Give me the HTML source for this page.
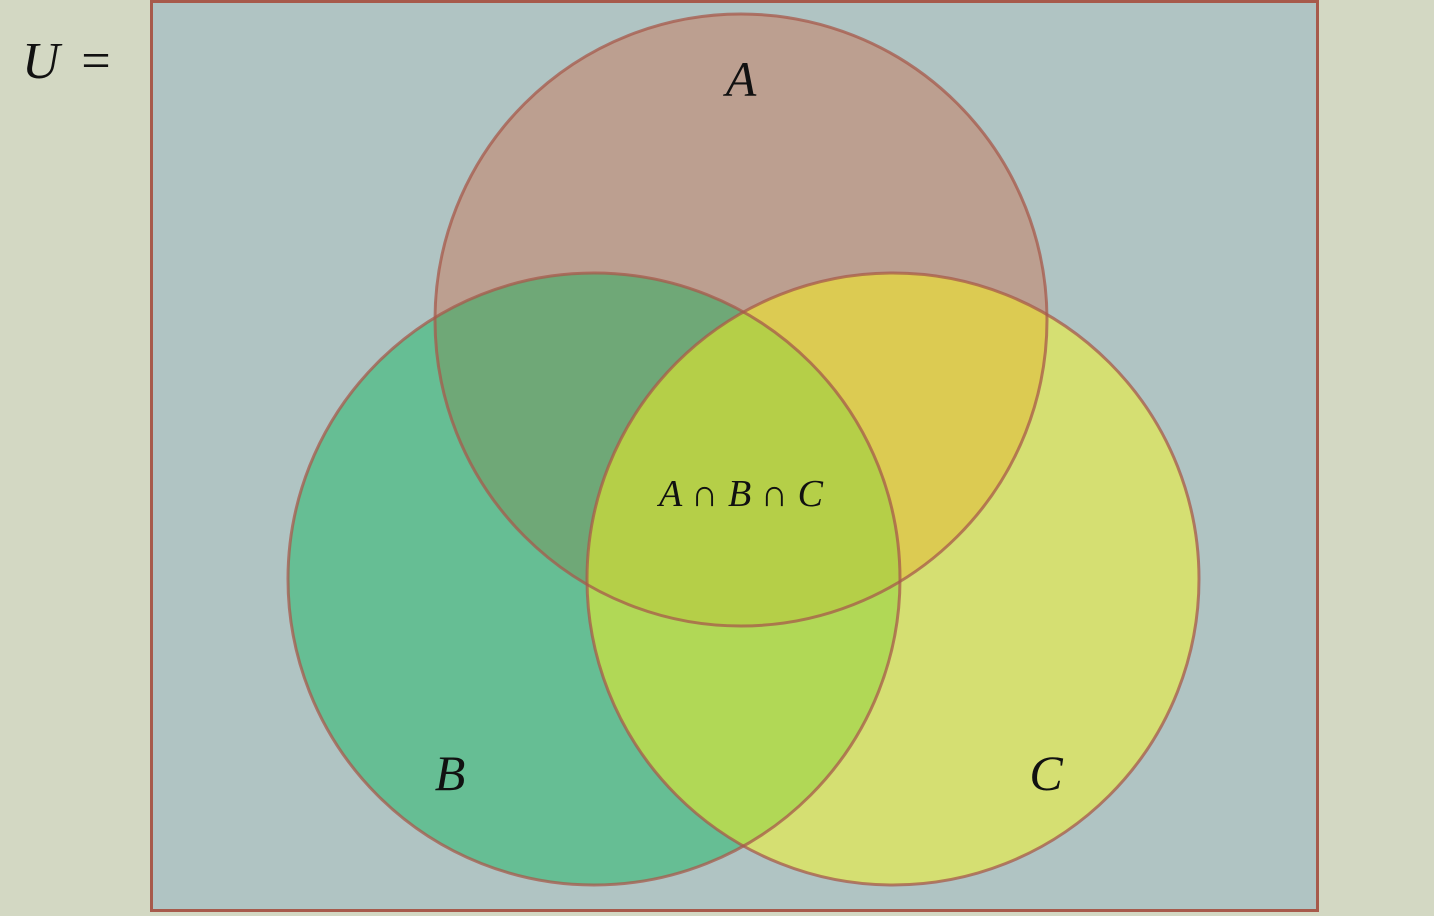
<!DOCTYPE html>
<html><head><meta charset="utf-8"><style>
html,body{margin:0;padding:0;background:#d3d8c3;width:1434px;height:916px;overflow:hidden}
text{font-family:"Liberation Serif","DejaVu Serif",serif;font-style:italic}
</style></head><body>
<svg width="1434" height="916" viewBox="0 0 1434 916">
<defs>
<clipPath id="cA"><circle cx="741" cy="320" r="306"/></clipPath>
<clipPath id="cB"><circle cx="594" cy="579" r="306"/></clipPath>
<clipPath id="cC"><circle cx="893" cy="579" r="306"/></clipPath>
</defs>
<rect x="0" y="0" width="1434" height="916" fill="#d3d8c3"/>
<rect x="151.5" y="1.5" width="1166" height="909" fill="#b0c4c3" stroke="#a75a4b" stroke-width="3"/>
<text x="22" y="78" font-size="52" fill="#111">U</text>
<text x="78" y="78" font-size="52" fill="#111" font-style="normal">=</text>
<circle cx="741" cy="320" r="306" fill="#bc9f90"/>
<circle cx="594" cy="579" r="306" fill="#66be94"/>
<circle cx="893" cy="579" r="306" fill="#d5df72"/>
<g clip-path="url(#cA)"><circle cx="594" cy="579" r="306" fill="#6fa877"/></g>
<g clip-path="url(#cA)"><circle cx="893" cy="579" r="306" fill="#dccb52"/></g>
<g clip-path="url(#cB)"><circle cx="893" cy="579" r="306" fill="#b1d856"/></g>
<g clip-path="url(#cA)"><g clip-path="url(#cB)"><circle cx="893" cy="579" r="306" fill="#b5cf48"/></g></g>
<circle cx="741" cy="320" r="306" fill="none" stroke="#a75a4b" stroke-width="3" stroke-opacity="0.75"/>
<circle cx="594" cy="579" r="306" fill="none" stroke="#a75a4b" stroke-width="3" stroke-opacity="0.75"/>
<circle cx="893" cy="579" r="306" fill="none" stroke="#a75a4b" stroke-width="3" stroke-opacity="0.75"/>
<text x="741" y="96" font-size="50" text-anchor="middle" fill="#111">A</text>
<text x="450" y="790" font-size="50" text-anchor="middle" fill="#111">B</text>
<text x="1046" y="790" font-size="50" text-anchor="middle" fill="#111">C</text>
<text x="741" y="506" font-size="38" text-anchor="middle" fill="#111">A ∩ B ∩ C</text>
</svg>
</body></html>
